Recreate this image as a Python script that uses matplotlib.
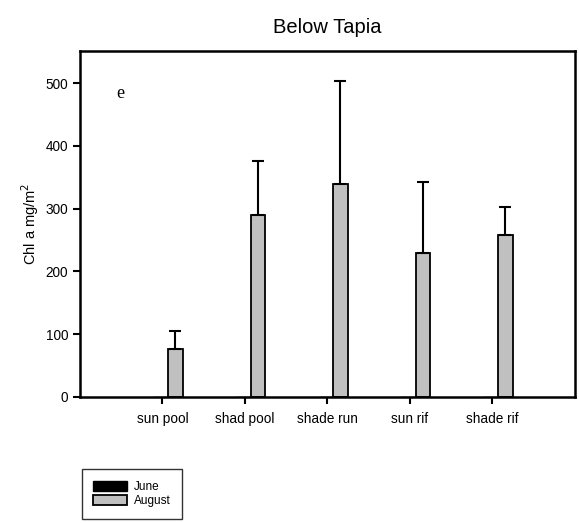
import numpy as np
import matplotlib
matplotlib.use('Agg')
import matplotlib.pyplot as plt

plt.rcParams['font.family'] = ['Liberation Sans', 'DejaVu Sans']

sites = ['sun pool', 'shad pool', 'shade run', 'sun rif', 'shade rif']
june = [0, 0, 0, 0, 0]
august = [77, 290, 340, 230, 258]
august_err = [28, 86, 163, 113, 44]

x = np.arange(len(sites))
w = 0.175

fig = plt.figure(figsize=(5.79, 5.23), dpi=100)
ax = fig.add_axes([0.138, 0.241, 0.855, 0.661])

ax.bar(x - 0.02, june, w, color='black', edgecolor='black', linewidth=1, label='June')
ax.bar(x + 0.157, august, w, color='#c0c0c0', edgecolor='black', linewidth=1.3,
       label='August')
ax.errorbar(x + 0.157, august, yerr=[np.zeros(len(x)), august_err], fmt='none',
            ecolor='black', elinewidth=1.5, capsize=4.5, capthick=1.5)

ax.set_xlim(-1, 5)
ax.set_ylim(0, 551)
ax.set_xticks(x)
ax.set_xticklabels(sites, fontsize=9.8)
ax.set_yticks([0, 100, 200, 300, 400, 500])
ax.tick_params(axis='y', labelsize=9.8, direction='out', length=5, width=1.5)
ax.tick_params(axis='x', direction='out', length=5, width=1.5, pad=6)
for s in ax.spines.values():
    s.set_linewidth(1.8)

ax.set_ylabel('Chl a mg/m$^2$', fontsize=10.5, labelpad=3)
ax.set_title('Below Tapia', fontsize=14.5, pad=13)
ax.text(0.081, 0.879, 'e', transform=ax.transAxes, fontsize=13,
        family='Liberation Serif', va='center', ha='center')

fig.legend(loc='lower left', bbox_to_anchor=(0.141, 0.008), fontsize=8.5,
           frameon=True, fancybox=False, edgecolor='black',
           handlelength=2.8, handleheight=0.9, borderpad=1.0, labelspacing=0.15,
           handletextpad=0.6, borderaxespad=0)

fig.savefig('out.png', dpi=100)
